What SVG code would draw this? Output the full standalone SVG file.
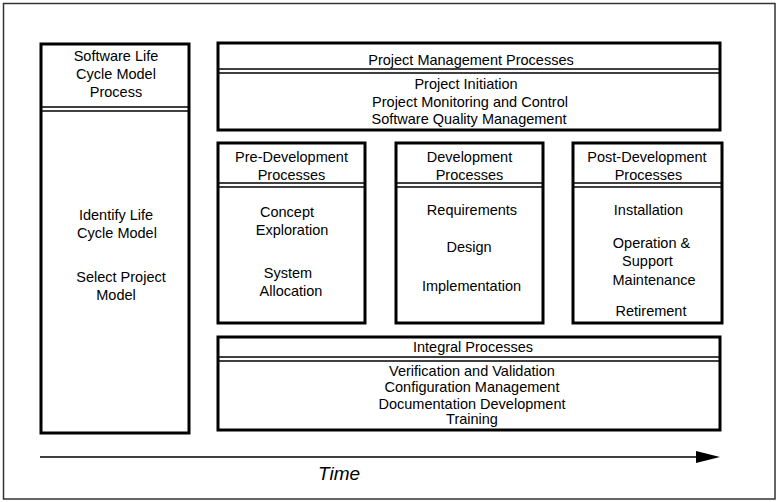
<svg xmlns="http://www.w3.org/2000/svg" width="779" height="502" viewBox="0 0 779 502">
<style>
.box{fill:#fff;stroke:#000;stroke-width:3}
.sep{stroke:#000;stroke-width:1.5}
text{font-family:"Liberation Sans",Arial,sans-serif;font-size:14.5px;fill:#000;text-anchor:middle}
.time{font-size:19px;font-style:italic}
</style>
<rect x="0" y="0" width="779" height="502" fill="#fff"/>
<rect id="frame" x="3.5" y="3.5" width="771.5" height="495.5" fill="none" stroke="#333" stroke-width="1.5"/>

<g id="lifecycle">
<rect class="box" x="41" y="44" width="148" height="389"/>
<line class="sep" x1="41" y1="107" x2="189" y2="107"/>
<line class="sep" x1="41" y1="111" x2="189" y2="111"/>
<text x="116" y="61">Software Life</text>
<text x="116" y="79">Cycle Model</text>
<text x="116" y="97">Process</text>
<text x="116" y="220">Identify Life</text>
<text x="117" y="238">Cycle Model</text>
<text x="121" y="282">Select Project</text>
<text x="116" y="300">Model</text>
</g>

<g id="projmgmt">
<rect class="box" x="218" y="43" width="502" height="87"/>
<line class="sep" x1="218" y1="69" x2="720" y2="69"/>
<line class="sep" x1="218" y1="73" x2="720" y2="73"/>
<text x="471" y="65">Project Management Processes</text>
<text x="466" y="89">Project Initiation</text>
<text x="470" y="107">Project Monitoring and Control</text>
<text x="469" y="124">Software Quality Management</text>
</g>

<g id="predev">
<rect class="box" x="218" y="143" width="147" height="180"/>
<line class="sep" x1="218" y1="183" x2="365" y2="183"/>
<line class="sep" x1="218" y1="187" x2="365" y2="187"/>
<text x="291.5" y="162">Pre-Development</text>
<text x="291.5" y="180">Processes</text>
<text x="287" y="217">Concept</text>
<text x="292" y="235">Exploration</text>
<text x="288" y="278">System</text>
<text x="291" y="296">Allocation</text>
</g>

<g id="dev">
<rect class="box" x="396" y="143" width="147" height="180"/>
<line class="sep" x1="396" y1="183" x2="543" y2="183"/>
<line class="sep" x1="396" y1="187" x2="543" y2="187"/>
<text x="469.5" y="162">Development</text>
<text x="469.5" y="180">Processes</text>
<text x="472" y="215">Requirements</text>
<text x="469" y="252">Design</text>
<text x="471.5" y="291">Implementation</text>
</g>

<g id="postdev">
<rect class="box" x="573" y="143" width="149" height="180"/>
<line class="sep" x1="573" y1="183" x2="722" y2="183"/>
<line class="sep" x1="573" y1="187" x2="722" y2="187"/>
<text x="647" y="162">Post-Development</text>
<text x="648.5" y="180">Processes</text>
<text x="648.5" y="215">Installation</text>
<text x="651.5" y="248">Operation &amp;</text>
<text x="647.5" y="266">Support</text>
<text x="654" y="285">Maintenance</text>
<text x="651" y="316">Retirement</text>
</g>

<g id="integral">
<rect class="box" x="218" y="337" width="502" height="93"/>
<line class="sep" x1="218" y1="357" x2="720" y2="357"/>
<line class="sep" x1="218" y1="361" x2="720" y2="361"/>
<text x="473" y="352">Integral Processes</text>
<text x="472" y="376">Verification and Validation</text>
<text x="472" y="392">Configuration Management</text>
<text x="472" y="409">Documentation Development</text>
<text x="472" y="424">Training</text>
</g>

<g id="connectors">
<line x1="40" y1="457" x2="698" y2="457" stroke="#000" stroke-width="1.5"/>
<polygon points="696,451 720,457 696,463" fill="#000"/>
</g>
<text class="time" x="339" y="480">Time</text>
</svg>
